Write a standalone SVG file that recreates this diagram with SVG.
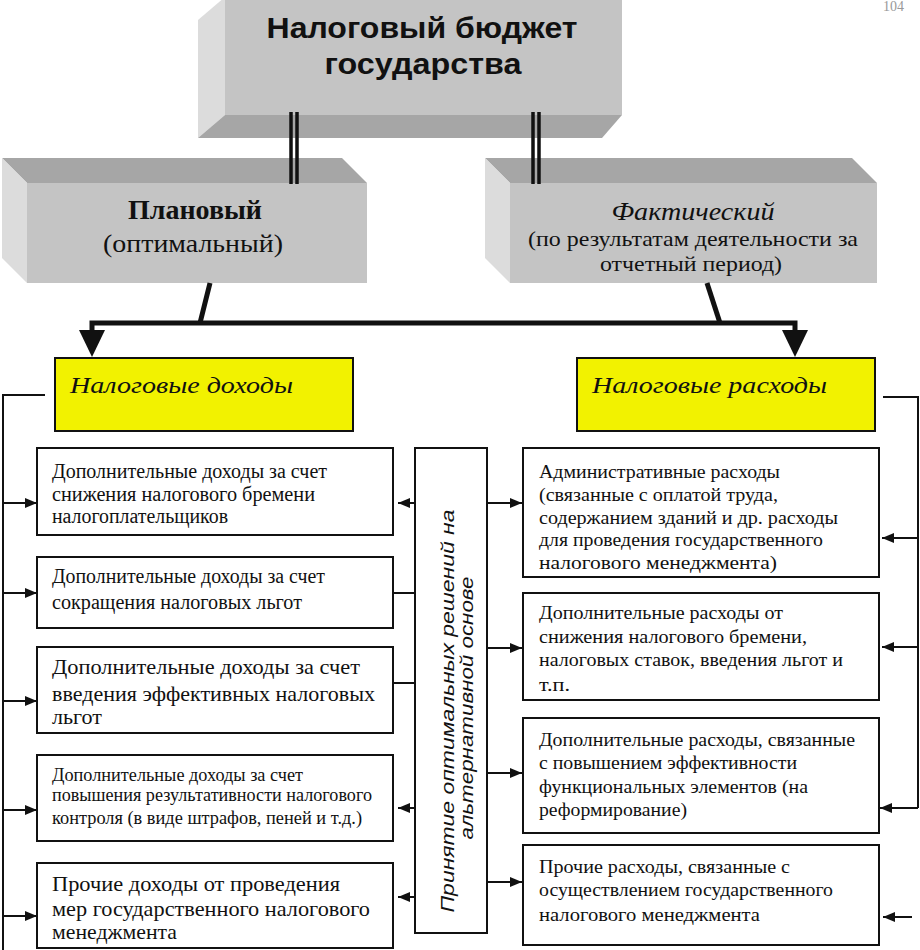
<svg xmlns="http://www.w3.org/2000/svg" width="920" height="950" viewBox="0 0 920 950">
<defs>
<style>
.ser{font-family:"Liberation Serif","Times New Roman",serif;fill:#111}
.san{font-family:"Liberation Sans",Arial,sans-serif;fill:#111}
.box{fill:#fff;stroke:#111;stroke-width:2}
.ybox{fill:#f2f200;stroke:#111;stroke-width:2}
.front{fill:#c4c4c4}
.lite{fill:#dcdcdc}
.dark{fill:#a6a6a6}
.ln{fill:none;stroke:#111;stroke-width:2}
.thick{fill:none;stroke:#111;stroke-width:5}
.arr{fill:none;stroke:#111;stroke-width:2;marker-end:url(#ah)}
</style>
<marker id="ah" viewBox="0 0 12 10" refX="12" refY="5" markerWidth="12" markerHeight="10" markerUnits="userSpaceOnUse" orient="auto">
<path d="M0,0 L12,5 L0,10 z" fill="#111"/>
</marker>
</defs>
<rect x="0" y="0" width="920" height="950" fill="#ffffff"/>
<text class="ser" x="883" y="11" font-size="14" fill="#999" style="fill:#999">104</text>

<g id="top-box">
<polygon class="lite" points="225,-3 198,20 198,138 225,115"/>
<polygon class="dark" points="225,115 622,115 602,138 198,138"/>
<rect class="front" x="225" y="-3" width="397" height="118"/>
<text class="san" x="422" y="38" font-size="30" font-weight="bold" text-anchor="middle" textLength="311" lengthAdjust="spacingAndGlyphs">Налоговый бюджет</text>
<text class="san" x="423" y="74" font-size="30" font-weight="bold" text-anchor="middle" textLength="197" lengthAdjust="spacingAndGlyphs">государства</text>
</g>

<g id="planned-box">
<polygon class="dark" points="2,158 342,158 367,183 27,183"/>
<polygon class="lite" points="2,158 27,183 27,283 2,258"/>
<rect class="front" x="27" y="183" width="340" height="100"/>
<text class="ser" x="195" y="219" font-size="28" font-weight="bold" text-anchor="middle" textLength="134" lengthAdjust="spacingAndGlyphs">Плановый</text>
<text class="ser" x="193" y="252" font-size="26" text-anchor="middle" textLength="180" lengthAdjust="spacingAndGlyphs">(оптимальный)</text>
</g>

<g id="actual-box">
<polygon class="dark" points="485,158 852,158 877,183 510,183"/>
<polygon class="lite" points="485,158 510,183 510,283 485,258"/>
<rect class="front" x="510" y="183" width="367" height="100"/>
<text class="ser" x="693" y="220" font-size="26" font-style="italic" text-anchor="middle" textLength="163" lengthAdjust="spacingAndGlyphs">Фактический</text>
<text class="ser" x="693" y="246" font-size="22" text-anchor="middle" textLength="330" lengthAdjust="spacingAndGlyphs">(по результатам деятельности за</text>
<text class="ser" x="691" y="271" font-size="22" text-anchor="middle" textLength="182" lengthAdjust="spacingAndGlyphs">отчетный период)</text>
</g>

<g id="connectors">
<!-- double lines from top box -->
<line x1="291" y1="112" x2="291" y2="184" stroke="#111" stroke-width="3.5"/>
<line x1="297" y1="112" x2="297" y2="184" stroke="#111" stroke-width="3.5"/>
<line x1="533" y1="112" x2="533" y2="184" stroke="#111" stroke-width="3.5"/>
<line x1="539" y1="112" x2="539" y2="184" stroke="#111" stroke-width="3.5"/>
<!-- thick bus -->
<line class="thick" x1="210" y1="283" x2="200" y2="323"/>
<line class="thick" x1="707" y1="283" x2="720" y2="323"/>
<polyline class="thick" points="92,332 92,323 795,323 795,332"/>
<polygon points="79,330 105,330 92,357" fill="#111"/>
<polygon points="782,330 808,330 795,357" fill="#111"/>
<!-- left bracket -->
<polyline class="ln" points="45,395 3,395 3,950"/>
<line class="arr" x1="3" y1="503" x2="37" y2="503"/>
<line class="arr" x1="3" y1="593" x2="37" y2="593"/>
<line class="arr" x1="3" y1="701" x2="37" y2="701"/>
<line class="arr" x1="3" y1="810" x2="37" y2="810"/>
<line class="arr" x1="3" y1="916" x2="37" y2="916"/>
<!-- right bracket -->
<polyline class="ln" points="883,397 918,397 918,808"/>
<line class="arr" x1="918" y1="538" x2="882" y2="538"/>
<line class="arr" x1="918" y1="647" x2="882" y2="647"/>
<line class="arr" x1="918" y1="808" x2="880" y2="808"/>
<line class="arr" x1="912" y1="917" x2="883" y2="917"/>
<!-- center to left -->
<line class="arr" x1="415" y1="503" x2="398" y2="503"/>
<line class="arr" x1="415" y1="593" x2="382" y2="593"/>
<line class="arr" x1="415" y1="683" x2="382" y2="683"/>
<line class="arr" x1="415" y1="808" x2="398" y2="808"/>
<line class="arr" x1="415" y1="897" x2="398" y2="897"/>
<!-- center to right -->
<line class="arr" x1="487" y1="503" x2="522" y2="503"/>
<line class="arr" x1="487" y1="648" x2="522" y2="648"/>
<line class="arr" x1="487" y1="773" x2="522" y2="773"/>
<line class="arr" x1="487" y1="882" x2="522" y2="882"/>
</g>

<g id="tax-income">
<rect class="ybox" x="55" y="358" width="298" height="73"/>
<text class="ser" x="70" y="393" font-size="24" font-style="italic" textLength="223" lengthAdjust="spacingAndGlyphs">Налоговые доходы</text>
</g>
<g id="tax-expense">
<rect class="ybox" x="577" y="358" width="298" height="73"/>
<text class="ser" x="592" y="393" font-size="24" font-style="italic" textLength="235" lengthAdjust="spacingAndGlyphs">Налоговые расходы</text>
</g>

<g id="center-box">
<rect class="box" x="415" y="448" width="72" height="485"/>
<text class="san" transform="translate(454,711) rotate(-90)" font-size="18" font-style="italic" text-anchor="middle" textLength="403" lengthAdjust="spacingAndGlyphs">Принятие оптимальных решений на</text>
<text class="san" transform="translate(473,708) rotate(-90)" font-size="18" font-style="italic" text-anchor="middle" textLength="263" lengthAdjust="spacingAndGlyphs">альтернативной основе</text>
</g>

<g id="inc-1">
<rect class="box" x="37" y="448" width="356" height="87"/>
<text class="ser" font-size="20" x="52" y="478" textLength="275" lengthAdjust="spacingAndGlyphs">Дополнительные доходы за счет</text>
<text class="ser" font-size="20" x="52" y="501" textLength="263" lengthAdjust="spacingAndGlyphs">снижения  налогового бремени</text>
<text class="ser" font-size="20" x="52" y="523" textLength="176" lengthAdjust="spacingAndGlyphs">налогоплательщиков</text>
</g>
<g id="inc-2">
<rect class="box" x="37" y="557" width="356" height="71"/>
<text class="ser" font-size="20" x="52" y="583" textLength="273" lengthAdjust="spacingAndGlyphs">Дополнительные доходы за счет</text>
<text class="ser" font-size="20" x="52" y="609" textLength="250" lengthAdjust="spacingAndGlyphs">сокращения налоговых льгот</text>
</g>
<g id="inc-3">
<rect class="box" x="37" y="647" width="356" height="86"/>
<text class="ser" font-size="22" x="52" y="674" textLength="308" lengthAdjust="spacingAndGlyphs">Дополнительные доходы за счет</text>
<text class="ser" font-size="22" x="52" y="701" textLength="323" lengthAdjust="spacingAndGlyphs">введения эффективных налоговых</text>
<text class="ser" font-size="22" x="52" y="724" textLength="50" lengthAdjust="spacingAndGlyphs">льгот</text>
</g>
<g id="inc-4">
<rect class="box" x="37" y="755" width="356" height="86"/>
<text class="ser" font-size="18" x="52" y="781" textLength="251" lengthAdjust="spacingAndGlyphs">Дополнительные доходы за счет</text>
<text class="ser" font-size="18" x="52" y="801" textLength="320" lengthAdjust="spacingAndGlyphs">повышения результативности налогового</text>
<text class="ser" font-size="18" x="52" y="824" textLength="310" lengthAdjust="spacingAndGlyphs">контроля (в виде штрафов, пеней и т.д.)</text>
</g>
<g id="inc-5">
<rect class="box" x="37" y="863" width="356" height="85"/>
<text class="ser" font-size="21" x="52" y="891" textLength="288" lengthAdjust="spacingAndGlyphs">Прочие доходы от проведения</text>
<text class="ser" font-size="21" x="52" y="916" textLength="318" lengthAdjust="spacingAndGlyphs">мер государственного налогового</text>
<text class="ser" font-size="21" x="52" y="939" textLength="125" lengthAdjust="spacingAndGlyphs">менеджмента</text>
</g>

<g id="exp-1">
<rect class="box" x="523" y="448" width="356" height="129"/>
<text class="ser" font-size="19" x="539" y="478" textLength="241" lengthAdjust="spacingAndGlyphs">Административные расходы</text>
<text class="ser" font-size="19" x="539" y="501" textLength="239" lengthAdjust="spacingAndGlyphs">(связанные с оплатой труда,</text>
<text class="ser" font-size="19" x="539" y="524" textLength="299" lengthAdjust="spacingAndGlyphs">содержанием зданий и др. расходы</text>
<text class="ser" font-size="19" x="539" y="546" textLength="284" lengthAdjust="spacingAndGlyphs">для проведения государственного</text>
<text class="ser" font-size="19" x="539" y="569" textLength="238" lengthAdjust="spacingAndGlyphs">налогового менеджмента)</text>
</g>
<g id="exp-2">
<rect class="box" x="523" y="593" width="356" height="107"/>
<text class="ser" font-size="19" x="539" y="619" textLength="244" lengthAdjust="spacingAndGlyphs">Дополнительные расходы от</text>
<text class="ser" font-size="19" x="539" y="643" textLength="268" lengthAdjust="spacingAndGlyphs">снижения налогового бремени,</text>
<text class="ser" font-size="19" x="539" y="666" textLength="304" lengthAdjust="spacingAndGlyphs">налоговых ставок, введения льгот и</text>
<text class="ser" font-size="19" x="539" y="691" textLength="31" lengthAdjust="spacingAndGlyphs">т.п.</text>
</g>
<g id="exp-3">
<rect class="box" x="523" y="718" width="356" height="115"/>
<text class="ser" font-size="19" x="539" y="746" textLength="316" lengthAdjust="spacingAndGlyphs">Дополнительные расходы, связанные</text>
<text class="ser" font-size="19" x="539" y="769" textLength="258" lengthAdjust="spacingAndGlyphs">с повышением эффективности</text>
<text class="ser" font-size="19" x="539" y="793" textLength="269" lengthAdjust="spacingAndGlyphs">функциональных элементов (на</text>
<text class="ser" font-size="19" x="539" y="816" textLength="148" lengthAdjust="spacingAndGlyphs">реформирование)</text>
</g>
<g id="exp-4">
<rect class="box" x="523" y="845" width="356" height="100"/>
<text class="ser" font-size="19" x="539" y="873" textLength="251" lengthAdjust="spacingAndGlyphs">Прочие расходы, связанные с</text>
<text class="ser" font-size="19" x="539" y="896" textLength="294" lengthAdjust="spacingAndGlyphs">осуществлением государственного</text>
<text class="ser" font-size="19" x="539" y="921" textLength="221" lengthAdjust="spacingAndGlyphs">налогового менеджмента</text>
</g>
</svg>
